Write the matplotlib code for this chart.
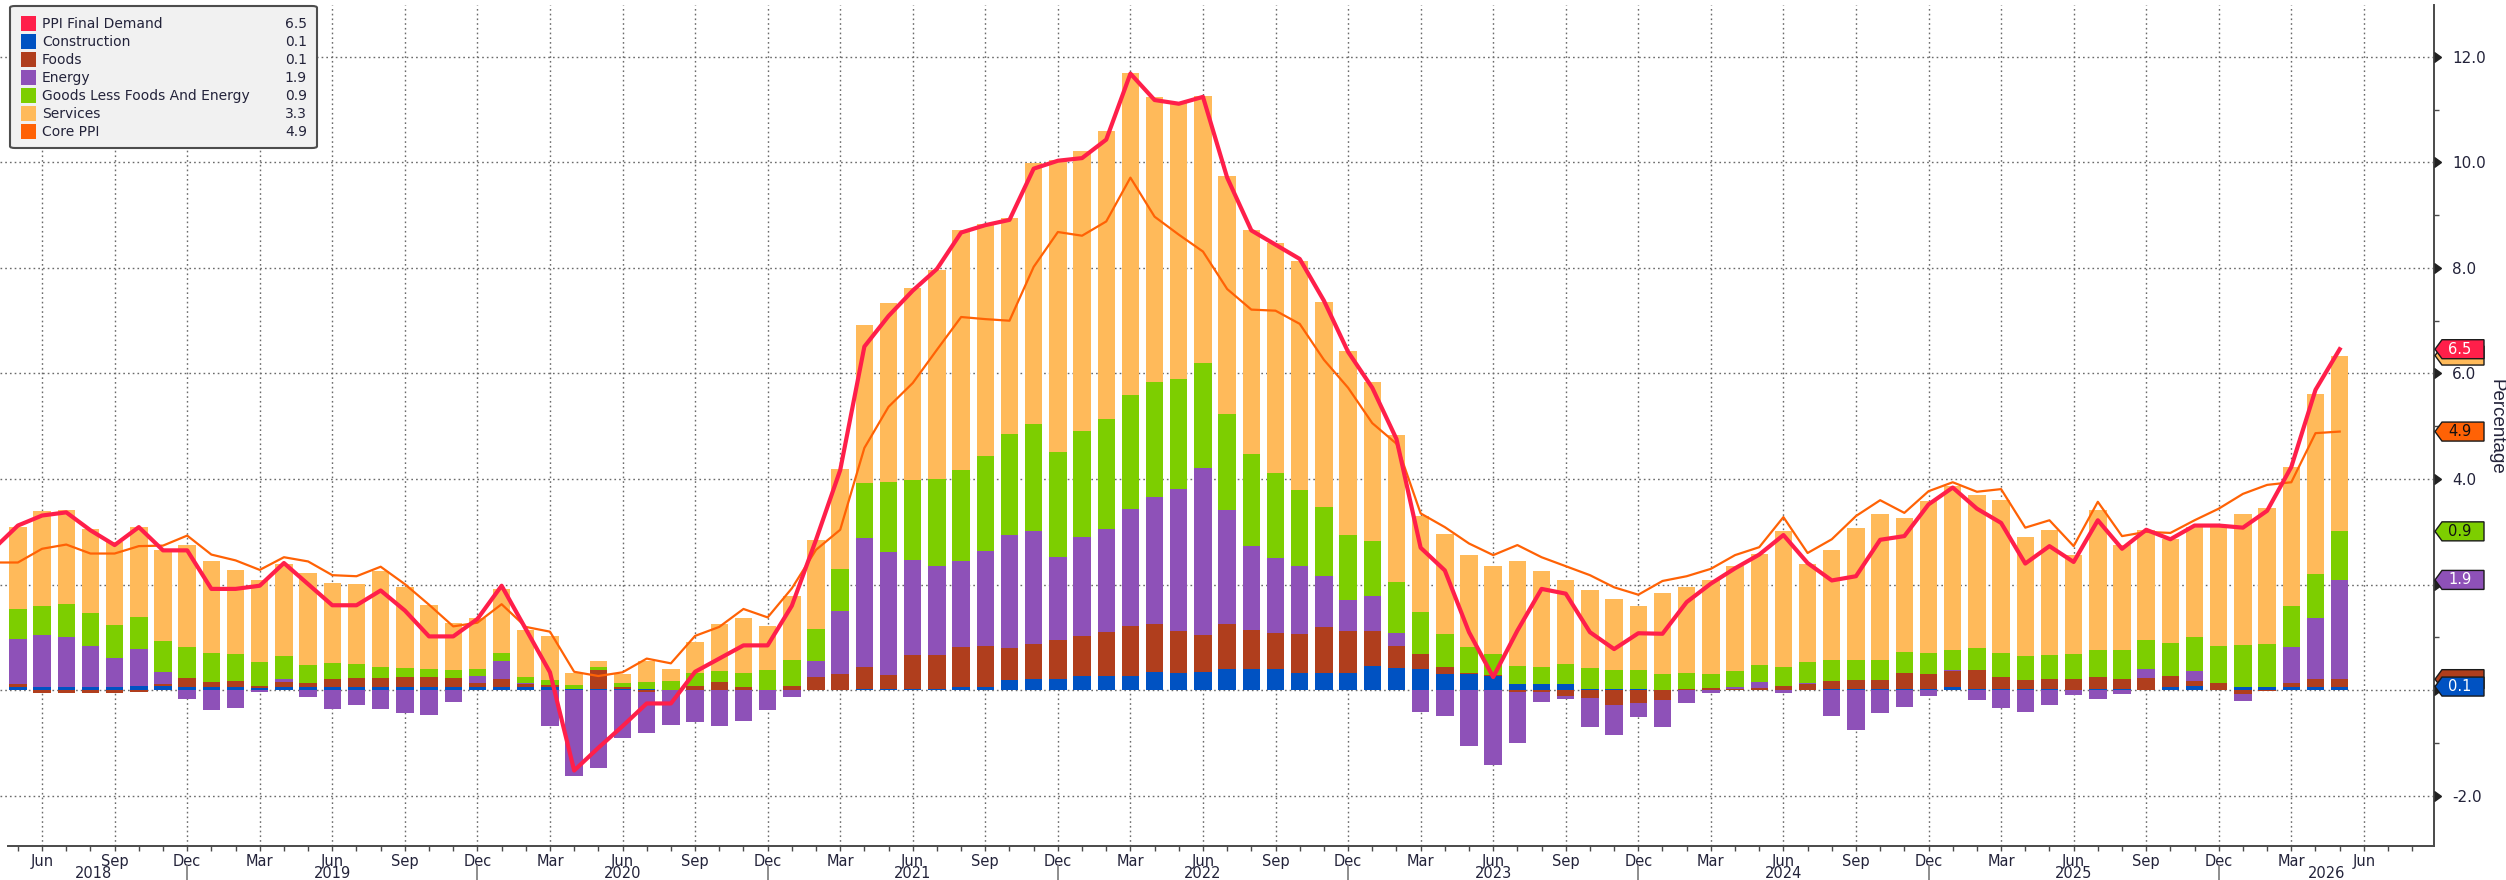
import numpy as np
import pandas as pd
import matplotlib
matplotlib.use("Agg")
import matplotlib.pyplot as plt
from matplotlib.patches import Polygon, FancyBboxPatch, Rectangle
from matplotlib.ticker import FixedLocator, FixedFormatter, NullFormatter
from matplotlib.markers import CARETRIGHTBASE

# ---------------- data ----------------
bar_start = "2018-05"
construction = [0.07, 0.07, 0.07, 0.07, 0.07, 0.09, 0.09, 0.07, 0.07, 0.07, 0.04, 0.07, 0.07, 0.07, 0.07, 0.07, 0.07,
                0.06, 0.06, 0.06, 0.06, 0.06, 0.06, 0.02, 0.02, 0.02, 0.02, 0.01, 0.00, 0.00, 0.00, 0.01,
                0.00, 0.00, 0.00, 0.02, 0.02, 0.03, 0.03, 0.06, 0.06, 0.19, 0.21, 0.21, 0.27, 0.27,
                0.27, 0.34, 0.32, 0.34, 0.40, 0.40, 0.40, 0.33, 0.33, 0.33, 0.46,
                0.42, 0.41, 0.30, 0.30, 0.27, 0.11, 0.11, 0.11, 0.03, 0.03, 0.03, 0.01,
                0.00, 0.00, 0.00, 0.00, 0.00, 0.01, 0.02, 0.02, 0.02, 0.02, 0.02, 0.07,
                0.02, 0.02, 0.02, 0.02, 0.01, 0.02, 0.02, 0.00, 0.07, 0.09, 0.00, 0.06, 0.06, 0.06, 0.06, 0.07]
foods = [0.04, -0.06, -0.06, -0.06, -0.06, -0.03, 0.03, 0.16, 0.08, 0.10, 0.04, 0.08, 0.06, 0.14, 0.16, 0.16, 0.19,
         0.19, 0.18, 0.08, 0.16, 0.06, 0.04, 0.00, 0.37, 0.04, -0.03, 0.00, 0.08, 0.15, 0.06, 0.00,
         0.08, 0.25, 0.31, 0.42, 0.27, 0.64, 0.64, 0.75, 0.78, 0.61, 0.67, 0.74, 0.75, 0.83,
         0.95, 0.92, 0.80, 0.71, 0.86, 0.75, 0.69, 0.73, 0.87, 0.80, 0.66,
         0.41, 0.27, 0.14, 0.02, 0.01, -0.03, -0.03, -0.11, -0.15, -0.28, -0.25, -0.19,
         0.02, 0.04, 0.03, 0.05, 0.08, 0.10, 0.16, 0.18, 0.18, 0.30, 0.28, 0.30,
         0.37, 0.23, 0.17, 0.20, 0.21, 0.24, 0.20, 0.24, 0.20, 0.09, 0.14, -0.07, -0.02, 0.07, 0.15, 0.14]
energy = [0.87, 0.97, 0.93, 0.77, 0.55, 0.70, 0.23, -0.17, -0.38, -0.34, -0.04, 0.06, -0.13, -0.36, -0.27, -0.36, -0.44,
          -0.47, -0.23, 0.13, 0.33, 0.02, -0.68, -1.63, -1.47, -0.91, -0.78, -0.66, -0.61, -0.68, -0.58, -0.38,
          -0.13, 0.30, 1.19, 2.44, 2.33, 1.79, 1.68, 1.64, 1.80, 2.14, 2.14, 1.57, 1.89, 1.95,
          2.21, 2.40, 2.69, 3.16, 2.16, 1.58, 1.42, 1.29, 0.97, 0.58, 0.66,
          0.26, -0.42, -0.49, -1.06, -1.41, -0.96, -0.19, -0.06, -0.55, -0.56, -0.25, -0.51,
          -0.25, -0.06, 0.03, 0.10, -0.06, 0.02, -0.49, -0.76, -0.44, -0.31, -0.10, 0.02,
          -0.18, -0.33, -0.41, -0.27, -0.09, -0.16, -0.08, 0.17, 0.00, 0.18, 0.00, -0.13, 0.00, 0.69, 1.15, 1.88]
goods_less_food_energy = [0.55, 0.56, 0.63, 0.62, 0.62, 0.60, 0.59, 0.58, 0.56, 0.51, 0.46, 0.43, 0.35, 0.30, 0.27, 0.22, 0.16,
                          0.15, 0.14, 0.13, 0.15, 0.11, 0.09, 0.08, 0.05, 0.08, 0.13, 0.17, 0.24, 0.21, 0.27, 0.37,
                          0.49, 0.61, 0.79, 1.05, 1.33, 1.52, 1.65, 1.73, 1.80, 1.92, 2.02, 2.00, 2.00, 2.09,
                          2.16, 2.18, 2.09, 1.99, 1.82, 1.74, 1.61, 1.44, 1.31, 1.23, 1.05,
                          0.97, 0.81, 0.63, 0.49, 0.40, 0.35, 0.33, 0.38, 0.40, 0.36, 0.36, 0.29,
                          0.30, 0.27, 0.30, 0.33, 0.36, 0.41, 0.40, 0.38, 0.38, 0.41, 0.40, 0.38,
                          0.41, 0.45, 0.45, 0.44, 0.46, 0.51, 0.55, 0.55, 0.62, 0.64, 0.69, 0.79, 0.82, 0.77, 0.85, 0.92]
services = [1.56, 1.80, 1.78, 1.60, 1.56, 1.71, 1.71, 1.94, 1.73, 1.59, 1.54, 1.75, 1.75, 1.52, 1.52, 1.80, 1.54,
            1.22, 0.89, 0.97, 1.22, 0.89, 0.83, 0.22, 0.11, 0.17, 0.41, 0.23, 0.59, 0.89, 1.04, 0.84,
            1.21, 1.69, 1.90, 2.99, 3.39, 3.64, 3.96, 4.53, 4.40, 4.09, 4.94, 5.53, 5.31, 5.46,
            6.11, 5.40, 5.23, 5.06, 4.50, 4.25, 4.36, 4.34, 3.88, 3.49, 3.01,
            2.77, 1.82, 1.89, 1.76, 1.67, 1.98, 1.81, 1.59, 1.47, 1.33, 1.20, 1.55,
            1.63, 1.78, 2.00, 2.11, 2.57, 1.85, 2.07, 2.50, 2.76, 2.54, 2.88, 3.09,
            2.89, 2.90, 2.26, 2.38, 1.88, 2.64, 1.99, 2.07, 1.98, 2.10, 2.29, 2.48, 2.57, 2.64, 3.40, 3.33]

line_start = "2018-04"
ppi_final_demand = [2.68,
                    3.12, 3.31, 3.37, 3.03, 2.75, 3.09, 2.65, 2.65, 1.92, 1.92, 1.98, 2.41, 2.01, 1.61, 1.61, 1.89, 1.51,
                    1.02, 1.02, 1.35, 1.98, 1.16, 0.34, -1.52, -1.09, -0.68, -0.25, -0.25, 0.35, 0.60, 0.85, 0.85,
                    1.60, 2.85, 4.17, 6.51, 7.09, 7.57, 7.98, 8.67, 8.81, 8.91, 9.88, 10.03, 10.08, 10.43,
                    11.68, 11.18, 11.11, 11.24, 9.71, 8.71, 8.44, 8.17, 7.38, 6.41, 5.73,
                    4.76, 2.70, 2.27, 1.10, 0.25, 1.13, 1.92, 1.83, 1.10, 0.78, 1.08, 1.07,
                    1.67, 2.02, 2.31, 2.57, 2.94, 2.41, 2.08, 2.16, 2.85, 2.92, 3.52, 3.84,
                    3.44, 3.17, 2.40, 2.73, 2.43, 3.22, 2.68, 3.04, 2.86, 3.12, 3.12, 3.08, 3.40, 4.23, 5.69, 6.46]
core_ppi = [2.42,
            2.42, 2.68, 2.76, 2.59, 2.59, 2.73, 2.74, 2.93, 2.57, 2.46, 2.28, 2.52, 2.44, 2.18, 2.16, 2.34, 2.01,
            1.62, 1.21, 1.28, 1.63, 1.20, 1.11, 0.35, 0.27, 0.34, 0.60, 0.51, 1.03, 1.20, 1.54, 1.38,
            1.93, 2.66, 3.04, 4.59, 5.37, 5.82, 6.45, 7.07, 7.03, 7.00, 8.02, 8.68, 8.61, 8.88,
            9.71, 8.97, 8.63, 8.31, 7.60, 7.21, 7.19, 6.94, 6.26, 5.73, 5.06,
            4.67, 3.35, 3.09, 2.78, 2.56, 2.75, 2.52, 2.35, 2.18, 1.95, 1.81, 2.07,
            2.16, 2.30, 2.56, 2.71, 3.28, 2.60, 2.86, 3.30, 3.60, 3.36, 3.77, 3.94,
            3.76, 3.81, 3.08, 3.22, 2.73, 3.57, 2.92, 3.00, 2.98, 3.22, 3.44, 3.72, 3.89, 3.94, 4.87, 4.90]

legend_names = ["PPI Final Demand", "Construction", "Foods", "Energy",
                "Goods Less Foods And Energy", "Services", "Core PPI"]
colors = {"PPI Final Demand": "#FF1F4A", "Construction": "#0052C2", "Foods": "#B03E1D",
          "Energy": "#8E51B8", "Goods Less Foods And Energy": "#7DCE00",
          "Services": "#FFBA5A", "Core PPI": "#FF6205"}
tag_text_colors = {"PPI Final Demand": "white", "Construction": "white", "Foods": "white",
                   "Energy": "white", "Goods Less Foods And Energy": "#111111",
                   "Services": "#111111", "Core PPI": "#111111"}

# ---------------- figure ----------------
W, H = 2506, 880
TXT = "#23233a"
fig = plt.figure(figsize=(W / 100, H / 100), dpi=100)
fig.patch.set_facecolor("white")
AX_L, AX_R, AX_T, AX_B = 0, 2434, 5, 846
ax = fig.add_axes([AX_L / W, 1 - AX_B / H, (AX_R - AX_L) / W, (AX_B - AX_T) / H])
ax.set_facecolor("white")

bar_months = pd.period_range(bar_start, periods=len(services), freq="M")
line_months = pd.period_range(line_start, periods=len(ppi_final_demand), freq="M")
origin = bar_months[0]


def month_index(periods):
    return np.array([(p - origin).n for p in periods], dtype=float)


xb = month_index(bar_months)
xl = month_index(line_months)

components = [("Construction", construction), ("Foods", foods), ("Energy", energy),
              ("Goods Less Foods And Energy", goods_less_food_energy), ("Services", services)]
pos = np.zeros(len(xb))
neg = np.zeros(len(xb))
stack_top_last = {}
for name, vals in components:
    v = np.asarray(vals, dtype=float)
    bottom = np.where(v >= 0, pos, neg)
    ax.bar(xb, v, bottom=bottom, width=0.72, color=colors[name], linewidth=0, zorder=2)
    pos = np.where(v >= 0, pos + v, pos)
    neg = np.where(v < 0, neg + v, neg)
    stack_top_last[name] = (bottom + v)[-1]

ax.plot(xl, core_ppi, color=colors["Core PPI"], lw=1.6, zorder=3)
ax.plot(xl, ppi_final_demand, color=colors["PPI Final Demand"], lw=3.0, zorder=4)

ax.set_xlim(-0.74, 99.9)
ax.set_ylim(-2.95, 12.98)

# spines
for s in ["left", "top"]:
    ax.spines[s].set_visible(False)
for s in ["right", "bottom"]:
    ax.spines[s].set_color("#4a4a4a")
    ax.spines[s].set_linewidth(1.4)
ax.spines["bottom"].set_bounds(-0.41, 99.9)

# x ticks
tick_periods = pd.period_range("2018-04", "2026-08", freq="M")
tick_x = month_index(tick_periods)
major = [(x, p.strftime("%b")) for x, p in zip(tick_x, tick_periods) if p.month in (3, 6, 9, 12)]
ax.xaxis.set_major_locator(FixedLocator([m[0] for m in major]))
ax.xaxis.set_major_formatter(FixedFormatter([m[1] for m in major]))
ax.xaxis.set_minor_locator(FixedLocator(list(tick_x)))
ax.xaxis.set_minor_formatter(NullFormatter())
ax.tick_params(axis="x", which="both", direction="out", length=3.6, width=1, color="#4a4a4a",
               pad=2, labelsize=10.5, labelcolor=TXT)

# tags positions (needed to know which y labels they hide)
last_values = {"PPI Final Demand": ppi_final_demand[-1], "Construction": construction[-1],
               "Foods": foods[-1], "Energy": energy[-1],
               "Goods Less Foods And Energy": goods_less_food_energy[-1],
               "Services": services[-1], "Core PPI": core_ppi[-1]}
tag_pos = {"PPI Final Demand": ppi_final_demand[-1], "Core PPI": core_ppi[-1]}
tag_pos.update(stack_top_last)
draw_order = ["Core PPI", "Services", "Goods Less Foods And Energy", "Energy", "Foods",
              "Construction", "PPI Final Demand"]
tag_y = {n: H - ax.transData.transform((0, tag_pos[n]))[1] for n in draw_order}
hh = 9.5

# y ticks on right
ax.yaxis.tick_right()
yt = np.arange(-2, 13, 2)
ylabels = []
for v in yt:
    ypix = H - ax.transData.transform((0, v))[1]
    hidden = any(abs(ypix - ty) < hh + 6 for ty in tag_y.values())
    ylabels.append("" if hidden else f"{v:.1f}")
ax.yaxis.set_major_locator(FixedLocator(yt))
ax.yaxis.set_major_formatter(FixedFormatter(ylabels))
ax.yaxis.set_minor_locator(FixedLocator(np.arange(-1, 13, 2)))
ax.tick_params(axis="y", which="major", length=0, pad=13, labelsize=11, labelcolor=TXT)
ax.tick_params(axis="y", which="minor", length=3.5, width=1, color="#4a4a4a")
ax.plot(np.ones(len(yt)), yt, transform=ax.get_yaxis_transform(), linestyle="none",
        marker=CARETRIGHTBASE, markersize=7, color="#222222", clip_on=False, zorder=6)

# grid
ax.set_axisbelow(True)
ax.grid(which="major", axis="both", color="#6a6a6a", linestyle=(0, (1.2, 2.2)), linewidth=1.0)

# year labels & separators
ax_h = AX_B - AX_T
xmin, xmax = ax.get_xlim()
dec_x = [x for x, p in zip(tick_x, tick_periods) if p.month == 12]
ax.vlines(dec_x, -(865 - AX_B) / ax_h, -(882 - AX_B) / ax_h, transform=ax.get_xaxis_transform(),
          colors="#7a7a7a", linewidth=1.2, clip_on=False)
for yr in range(2018, 2027):
    left = max(xmin, (pd.Period(f"{yr - 1}-12", freq="M") - origin).n)
    right = min(xmax, (pd.Period(f"{yr}-12", freq="M") - origin).n)
    ax.text((left + right) / 2, -(866 - AX_B) / ax_h, str(yr), transform=ax.get_xaxis_transform(),
            ha="center", va="top", fontsize=10.5, color=TXT, clip_on=False)

# y label
fig.text(2496 / W, 1 - 427 / H, "Percentage", rotation=270, ha="center", va="center",
         fontsize=13.5, color=TXT, family=["Liberation Sans Narrow", "Liberation Sans", "DejaVu Sans"])


# ---------------- legend box ----------------
def fx(x):
    return x / W


def fy(y):
    return 1 - y / H


box = FancyBboxPatch((fx(10), fy(148)), fx(307), (148 - 6) / H,
                     boxstyle="round,pad=0,rounding_size=0.002", transform=fig.transFigure,
                     facecolor="#F1F1F1", edgecolor="#4d4d4d", linewidth=1.5, zorder=10)
fig.add_artist(box)
row0, drow = 24.3, 18.0
for i, name in enumerate(legend_names):
    yc = row0 + i * drow
    fig.add_artist(Rectangle((fx(21), fy(yc + 7)), fx(15), 15 / H, transform=fig.transFigure,
                             facecolor=colors[name], edgecolor="none", zorder=11))
    fig.text(fx(42), fy(yc), name, ha="left", va="center", fontsize=10, color=TXT, zorder=12)
    fig.text(fx(307), fy(yc), f"{last_values[name]:.1f}", ha="right", va="center",
             fontsize=10, color=TXT, zorder=12)

# ---------------- right value tags ----------------
for k, name in enumerate(draw_order):
    yc = tag_y[name]
    x0, x1, x2 = 2435, 2442, 2484
    pts = [(fx(x0), fy(yc)), (fx(x1), fy(yc - hh)), (fx(x2), fy(yc - hh)),
           (fx(x2), fy(yc + hh)), (fx(x1), fy(yc + hh))]
    fig.add_artist(Polygon(pts, closed=True, transform=fig.transFigure, facecolor=colors[name],
                           edgecolor="#1a1a1a", linewidth=1.0, zorder=20 + k))
    # label is hidden when a later tag covers this one
    covered = any(abs(tag_y[o] - yc) < 1.2 * hh for o in draw_order[k + 1:])
    if not covered:
        fig.text(fx(2460), fy(yc), f"{last_values[name]:.1f}", ha="center", va="center",
                 fontsize=10.5, color=tag_text_colors[name], zorder=21 + k)

fig.savefig("out.png", dpi=100, facecolor="white")
